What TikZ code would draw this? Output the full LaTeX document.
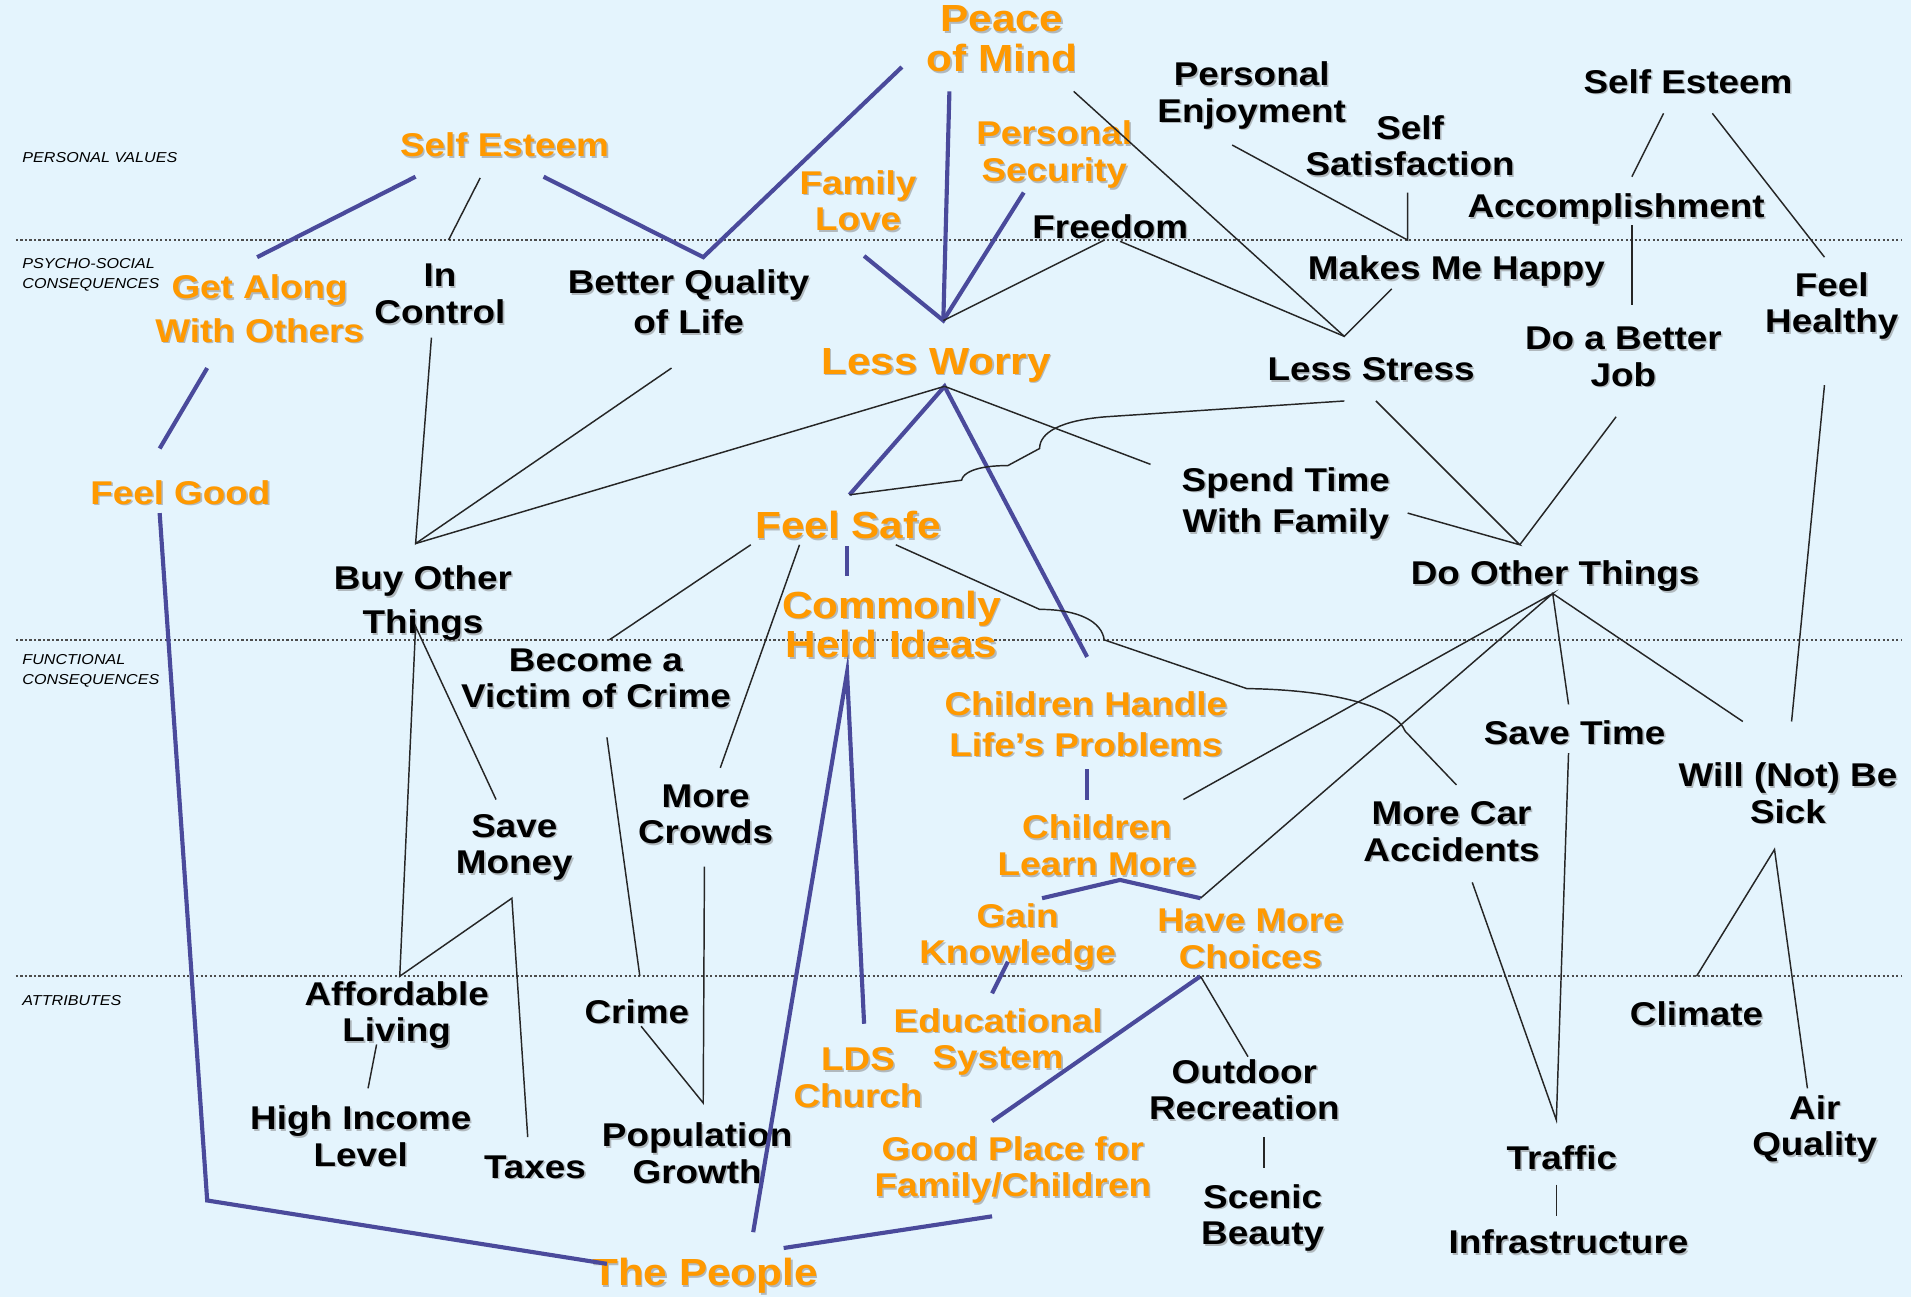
\documentclass[tikz,border=0pt]{standalone}
\usepackage{fontspec}
\setmainfont{Liberation Sans}[FakeStretch=1.12]
\usepackage{tikz}

\definecolor{bgblue}{RGB}{228,244,253}
\definecolor{orangetxt}{RGB}{255,153,0}
\definecolor{linkblue}{RGB}{74,74,155}

\tikzset{
  blk/.style={font=\bfseries\fontsize{13.5}{15}\selectfont, align=center, inner sep=0pt, text=black,
    execute at begin node=\strut, execute at end node=\strut, yshift=-1.8pt},
  org/.style={blk, text=orangetxt},
  orgbig/.style={org, font=\bfseries\fontsize{15.5}{16.3}\selectfont},
  shd/.style={text=black!55, opacity=0.45},
  lvl/.style={font=\itshape\fontsize{5.9}{8}\selectfont, align=left, anchor=west, inner sep=0pt},
  bluelink/.style={draw=linkblue, line width=1.7pt},
  link/.style={draw=black!85, line width=0.6pt},
  levelline/.style={draw=black!70, line width=0.9pt, dash pattern=on 0.9pt off 0.95pt},
}

% label with its grey drop shadow: [style]{name}{x}{y}{text}
\newcommand\lbl[5][blk]{%
  \node[#1, shd] at (#3+1.3,-#4-1.3) {#5};
  \node[#1] (#2) at (#3,-#4) {#5};}

\begin{document}
\begin{tikzpicture}[x=0.5pt, y=0.5pt]
  \useasboundingbox (0,0) rectangle (1568,-1064);
  \fill[bgblue] (0,0) rectangle (1568,-1064);

  % level separators and level names
  \foreach \y in {197,525,801} \draw[levelline] (13,-\y) -- (1560,-\y);
  \node[lvl] (pvalues) at (18,-129) {PERSONAL VALUES};
  \node[lvl] (psycho) at (18,-225.5) {PSYCHO-SOCIAL\\CONSEQUENCES};
  \node[lvl] (functional) at (18,-550.5) {FUNCTIONAL\\CONSEQUENCES};
  \node[lvl] (attributes) at (18,-821) {ATTRIBUTES};

  % personal values
  \lbl[orgbig]{peace}{822}{33}{Peace\\of Mind}
  \lbl[org]{selfesteem}{414}{119}{Self Esteem}
  \lbl[org]{familylove}{704}{165.5}{Family\\Love}
  \lbl[org]{security}{865}{125}{Personal\\Security}
  \lbl{enjoyment}{1027}{76.5}{Personal\\Enjoyment}
  \lbl{satisfaction}{1157}{120.5}{Self\\Satisfaction}
  \lbl{esteem}{1385}{67}{Self Esteem}
  \lbl{accomplish}{1326}{169}{Accomplishment}
  \lbl{freedom}{911}{186}{Freedom}

  % psycho-social consequences
  \lbl[org]{getalong}{213}{254}{Get Along\\[3pt]With Others}
  \lbl{incontrol}{361}{242}{In\\Control}
  \lbl{betterlife}{565}{248.5}{Better Quality\\[1.5pt]of Life}
  \lbl[orgbig]{lessworry}{768}{297}{Less Worry}
  \lbl{happy}{1195}{220}{Makes Me Happy}
  \lbl{healthy}{1503}{249}{Feel\\Healthy}
  \lbl{betterjob}{1332}{293.5}{Do a Better\\Job}
  \lbl{lessstress}{1125}{303}{Less Stress}
  \lbl[org]{feelgood}{148}{404}{Feel Good}
  \lbl{spendtime}{1055}{411}{Spend Time\\[2pt]With Family}
  \lbl[orgbig]{feelsafe}{696}{432}{Feel Safe}
  \lbl{dothings}{1276}{470}{Do Other Things}
  \lbl{buythings}{347}{493}{Buy Other\\[3pt]Things}
  \lbl[orgbig]{commonideas}{731.5}{513.5}{Commonly\\Held Ideas}

  % functional consequences
  \lbl{victim}{489}{557.5}{Become a\\Victim of Crime}
  \lbl[org]{handle}{891}{595}{Children Handle\\[1.5pt]Life’s Problems}
  \lbl{savetime}{1292}{601}{Save Time}
  \lbl{notsick}{1467}{651.5}{Will (Not) Be\\Sick}
  \lbl{crowds}{579}{669}{More\\Crowds}
  \lbl{savemoney}{422}{693.5}{Save\\Money}
  \lbl[org]{learnmore}{900}{694.5}{Children\\Learn More}
  \lbl{accidents}{1191}{683}{More Car\\Accidents}
  \lbl[org]{knowledge}{835}{767}{Gain\\Knowledge}
  \lbl[org]{choices}{1026}{771}{Have More\\Choices}

  % attributes
  \lbl{affordable}{325.5}{831}{Affordable\\Living}
  \lbl{crime}{522.5}{830}{Crime}
  \lbl{climate}{1392}{832}{Climate}
  \lbl[org]{education}{819}{853}{Educational\\System}
  \lbl[org]{lds}{704}{885}{LDS\\Church}
  \lbl{outdoor}{1021}{895}{Outdoor\\Recreation}
  \lbl{income}{296}{933}{High Income\\Level}
  \lbl{taxes}{439}{957}{Taxes}
  \lbl{population}{572}{947}{Population\\Growth}
  \lbl[org]{goodplace}{831}{958}{Good Place for\\Family/Children}
  \lbl{airquality}{1489}{924.5}{Air\\Quality}
  \lbl{traffic}{1281.5}{950}{Traffic}
  \lbl{scenic}{1036}{997.5}{Scenic\\Beauty}
  \lbl{infrastructure}{1287}{1019}{Infrastructure}
  \lbl[orgbig]{people}{578.5}{1045}{The People}

  % end points of the links
  \foreach \n/\x/\y in {
    seo-l/341/145, seo-m/394/146, seo-r/446/145, ga-t/211/211, ga-b/170/302,
    ic-t/368/197, ic-b/354/277, bq-t/577/211, bq-b/551/302,
    pm-l/740/55, pm-m/779/75, pm-r/881/75, ps-b/840/158, fl-b/709/210,
    lw-t/774/263, lw-b/775/317, fr-l/906/197, fr-r/919/198,
    pe-b/1011/119, ss-b/1155/158, mh-t/1155/197, mh-b/1142/237,
    ls-t/1103/276, ls-l/1103/329, ls-r/1129/329,
    seb-l/1365/93, seb-r/1405/93, ac-t/1339/145, ac-b/1339/185,
    db-t/1339/250, db-b/1326/342, fh-t/1497/211, fh-b/1497/316,
    fg-t/131/368, fg-b/131/421, fg-c/170/985,
    bo-t/341/446, bo-b/341/514, sp-l/944/381, sp-r/1155/421,
    do-t/1247/447, do-b/1274/487,
    fs-t/697/406, fs-l/616/447, fs-m/656/447, fs-c/695/448, fs-r/735/447,
    ch-t/892/539, ch-b/892/631, ci-t/695/473, ci-b/695/552,
    bv-t/500/525, bv-b/498/605, cl-t/892/656, ch-r/971/656,
    cl-l/855/737, cl-m/919/722, cl-r/985/737,
    sm-t/407/656, sm-b/420/737, mc-t/591/630, mc-b/578/711,
    st-t/1287/578, st-b/1287/618, wn-t/1430/592, wn-r/1470/592, wn-b/1456/697,
    ma-t/1195/644, ma-b/1208/724,
    al-t/328/801, al-b/309/857, hi-t/302/893, tx-t/433/933,
    cr-t/525/801, cr-b/526/842, pg-t/577/905,
    tp-l/498/1037, tp-m/618/1011, tp-r/643/1024, ld-t/709/840,
    gk-b/827/789, es-t/814/815, hm-b/985/801, gp-t/814/920, gp-b/814/998,
    od-t/1024/867, od-b/1037/933, sb-t/1037/958,
    tr-t/1277/919, tr-b/1277/972, in-t/1277/998,
    cm-t/1392/801, aq-t/1483/893}
    \coordinate (\n) at (\x,-\y);

  % main chain (blue)
  \draw[bluelink] (seo-l) -- (ga-t);
  \draw[bluelink] (seo-r) -- (bq-t) -- (pm-l);
  \draw[bluelink] (pm-m) -- (lw-t);
  \draw[bluelink] (ps-b) -- (lw-t) -- (fl-b);
  \draw[bluelink] (ga-b) -- (fg-t);
  \draw[bluelink] (fg-b) -- (fg-c) -- (tp-l);
  \draw[bluelink] (fs-t) -- (lw-b) -- (ch-t);
  \draw[bluelink] (fs-c) -- (ci-t);
  \draw[bluelink] (tp-m) -- (ci-b) -- (ld-t);
  \draw[bluelink] (ch-b) -- (cl-t);
  \draw[bluelink] (cl-l) -- (cl-m) -- (cl-r);
  \draw[bluelink] (gk-b) -- (es-t);
  \draw[bluelink] (hm-b) -- (gp-t);
  \draw[bluelink] (gp-b) -- (tp-r);

  % other links (black)
  \draw[link] (seo-m) -- (ic-t);
  \draw[link] (ic-b) -- (bo-t) -- (bq-b);
  \draw[link] (lw-b) -- (bo-t);
  \draw[link] (fr-l) -- (lw-t);
  \draw[link] (fr-r) -- (ls-t);
  \draw[link] (pm-r) -- (ls-t) -- (mh-b);
  \draw[link] (pe-b) -- (mh-t) -- (ss-b);
  \draw[link] (seb-l) -- (ac-t);
  \draw[link] (seb-r) -- (fh-t);
  \draw[link] (ac-b) -- (db-t);
  \draw[link] (lw-b) -- (sp-l);
  \draw[link] (ls-l) -- (907,-342) .. controls (870,-345) and (853,-355) .. (853,-368)
    -- (827,-382) .. controls (801,-382) and (790,-388) .. (789,-394) -- (fs-t);
  \draw[link] (ls-r) -- (do-t) -- (sp-r);
  \draw[link] (db-b) -- (do-t);
  \draw[link] (fh-b) -- (wn-r);
  \draw[link] (sm-t) -- (bo-b) -- (al-t) -- (sm-b) -- (tx-t);
  \draw[link] (al-b) -- (hi-t);
  \draw[link] (fs-l) -- (bv-t);
  \draw[link] (fs-m) -- (mc-t);
  \draw[link] (bv-b) -- (cr-t);
  \draw[link] (mc-b) -- (pg-t) -- (cr-b);
  \draw[link] (fs-r) -- (853,-500) .. controls (885,-500) and (904,-510) .. (906,-525)
    -- (1023,-565) .. controls (1095,-566) and (1145,-580) .. (1153,-600) -- (ma-t);
  \draw[link] (ch-r) -- (do-b) -- (cl-r);
  \draw[link] (st-t) -- (do-b) -- (wn-t);
  \draw[link] (st-b) -- (tr-t) -- (ma-b);
  \draw[link] (cm-t) -- (wn-b) -- (aq-t);
  \draw[link] (hm-b) -- (od-t);
  \draw[link] (od-b) -- (sb-t);
  \draw[link] (tr-b) -- (in-t);
\end{tikzpicture}
\end{document}
